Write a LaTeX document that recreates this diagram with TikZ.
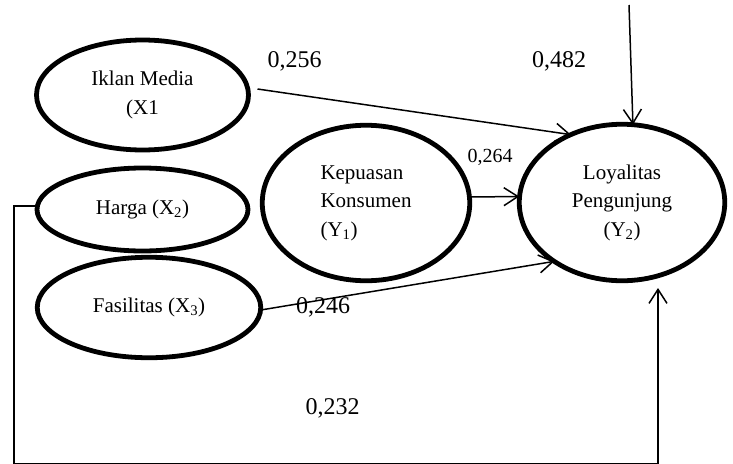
\documentclass[tikz,border=0pt]{standalone}
\usepackage{fontspec}
\setmainfont{Liberation Serif}
\usetikzlibrary{shapes.geometric,arrows.meta}
\begin{document}
\begin{tikzpicture}[x=1pt,y=-1pt,
  lv/.style={ellipse,draw,line width=4.8pt,inner sep=0pt,outer sep=0pt,
    font=\fontsize{21}{28.5}\selectfont,align=center},
  conn/.style={line width=1.5pt,-{Straight Barb[length=14pt,width=18pt]}},
  coef/.style={font=\fontsize{24}{28}\selectfont,inner sep=0pt},
  coefsmall/.style={font=\fontsize{20}{24}\selectfont,inner sep=0pt}]
\useasboundingbox (0,0) rectangle (733,463);
% latent variables
\node[lv,minimum width=212pt,minimum height=110pt] (iklan) at (142.5,95) {Iklan Media\\(X1};
\node[lv,minimum width=211pt,minimum height=83pt] (harga) at (142.5,209.5) {Harga (X\textsubscript{2})};
\node[lv,minimum width=223.5pt,minimum height=100.5pt] (fas) at (149,307.5) {Fasilitas (X\textsubscript{3})};
\node[lv,minimum width=207.5pt,minimum height=155.5pt,align=left] (kep) at (366,203) {Kepuasan\\Konsumen\\(Y\textsubscript{1})};
\node[lv,minimum width=205.5pt,minimum height=156.5pt] (loy) at (622,202.5) {Loyalitas\\Pengunjung\\(Y\textsubscript{2})};
% free ends and corners
\coordinate (topstart) at (629,5);
\coordinate (fbA) at (14,206);
\coordinate (fbB) at (14,463.6);
\coordinate (fbC) at (658,463.6);
\coordinate (fbEnd) at (658,288);
% connectors
\draw[conn] ([xshift=9pt,yshift=6pt]iklan.east) -- (loy.127.8);
\draw[conn] (topstart) -- (loy.82);
\draw[conn] ([yshift=6pt]kep.east) -- ([yshift=6pt]loy.west);
\draw[conn] ([yshift=-2.5pt]fas.east) -- (loy.221.2);
\draw[conn] ([yshift=3.5pt]harga.west) -- (fbA) -- (fbB) -- (fbC) -- (fbEnd);
% coefficients
\node[coef] (c256) at (294.5,61) {0,256};
\node[coef] (c482) at (559,61) {0,482};
\node[coefsmall] (c264) at (490,157) {0,264};
\node[coef] (c246) at (323,307) {0,246};
\node[coef] (c232) at (332.5,408.5) {0,232};
\end{tikzpicture}
\end{document}
